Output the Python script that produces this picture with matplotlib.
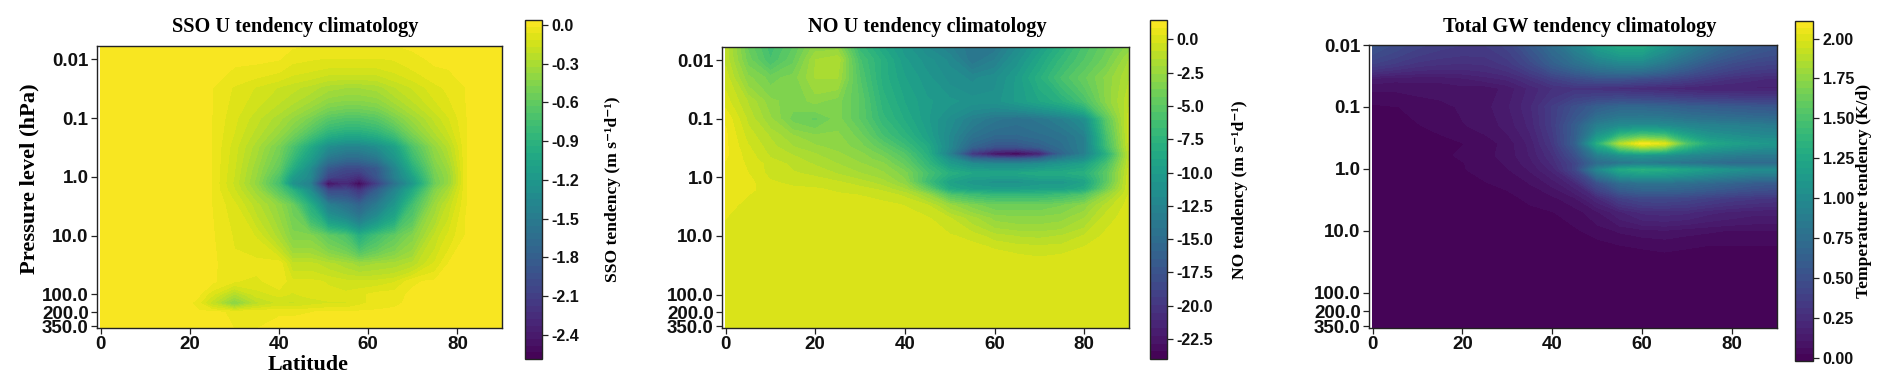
import numpy as np
import matplotlib
matplotlib.use("Agg")
import matplotlib.pyplot as plt

W, H = 1892, 391

# Panel 1: SSO U tendency
sso_lat = [0, 10, 20, 22, 25, 30, 35, 40, 43, 47, 51, 55, 58, 62, 66, 70, 75, 78, 82, 90]
sso_lev = [0.0055, 0.01, 0.03, 0.1, 0.3, 0.7, 1.0, 1.3, 1.7, 3, 10, 30, 60, 100, 140, 200, 380]
sso_val = [
 [0,0,0,0,0,0,0,0,0,-.01,-.01,-.01,-.01,-.01,-.01,0,0,0,0,0],
 [0,0,0,0,0,0,0,-.01,-.05,-.06,-.07,-.07,-.07,-.07,-.06,-.03,0,0,0,0],
 [0,0,0,0,-.01,-.07,-.12,-.17,-.2,-.24,-.3,-.32,-.32,-.3,-.22,-.16,-.08,-.05,-.01,0],
 [0,0,0,0,-.012,-.1,-.2,-.3,-.38,-.5,-.65,-.7,-.7,-.65,-.5,-.35,-.2,-.12,-.012,0],
 [0,0,0,0,-.012,-.14,-.3,-.5,-.7,-1.0,-1.3,-1.4,-1.4,-1.3,-1.1,-.7,-.38,-.25,-.012,0],
 [0,0,0,0,-.012,-.16,-.36,-.6,-.95,-1.3,-1.85,-2.0,-2.0,-1.85,-1.4,-.95,-.48,-.35,-.012,0],
 [0,0,0,0,-.012,-.17,-.38,-.7,-1.15,-1.35,-2.05,-2.15,-2.25,-1.9,-1.45,-1.1,-.52,-.38,-.012,0],
 [0,0,0,0,-.012,-.18,-.4,-.75,-1.25,-1.45,-2.5,-2.3,-2.55,-2.1,-1.6,-1.2,-.55,-.38,-.012,0],
 [0,0,0,0,-.012,-.16,-.35,-.65,-.9,-1.3,-2.0,-2.0,-2.2,-1.8,-1.4,-1.0,-.45,-.3,-.012,0],
 [0,0,0,0,-.012,-.1,-.25,-.4,-.55,-.95,-1.45,-1.6,-1.75,-1.5,-1.2,-.75,-.35,-.2,-.012,0],
 [0,0,0,0,-.005,-.07,-.12,-.3,-.45,-.45,-.6,-.7,-.95,-.75,-.6,-.45,-.2,-.1,-.005,0],
 [0,0,0,0,0,-.05,-.04,-.02,-.2,-.2,-.25,-.3,-.35,-.32,-.3,-.25,-.1,-.01,0,0],
 [0,0,0,0,0,-.06,-.08,-.02,-.1,-.1,-.12,-.15,-.15,-.15,-.12,-.02,0,0,0,0],
 [0,0,0,0,-.1,-.28,-.14,-.1,-.12,-.1,-.1,-.1,-.08,-.04,-.03,0,0,0,0,0],
 [0,0,0,-.05,-.2,-.45,-.24,-.16,-.18,-.14,-.12,-.12,-.08,-.04,-.02,0,0,0,0,0],
 [0,0,0,0,0,-.02,-.015,-.015,-.015,-.012,0,0,0,0,0,0,0,0,0,0],
 [0,0,0,0,0,-.012,-.012,0,0,0,0,0,0,0,0,0,0,0,0,0],
]
sso_ticks = [0.0, -0.3, -0.6, -0.9, -1.2, -1.5, -1.8, -2.1, -2.4]

# Panel 2: NO U tendency
no_lat = [0, 5, 10, 15, 20, 25, 30, 35, 40, 45, 50, 55, 60, 65, 70, 75, 80, 85, 90]
no_lev = [0.0055, 0.01, 0.02, 0.05, 0.1, 0.2, 0.3, 0.4, 0.49, 0.6, 0.85, 1.2, 1.6, 2, 3, 5, 10, 15, 20, 30, 380]
no_val = [
 [-1,-4.5,-6.5,-5,-3,-3,-7,-9,-10.5,-12,-13,-14,-14,-12,-10,-8,-6,-4.5,-3],
 [-1,-4,-6,-4.5,-2,-1.5,-6,-8,-10,-11,-12,-14,-13,-11,-9,-7,-5.5,-4,-2],
 [-.5,-3,-4,-3.5,-2,-2,-5.5,-8,-9.5,-10.5,-11.5,-12,-11.5,-10,-8,-6,-4.5,-3,-1.5],
 [0,-1.5,-3,-3.5,-3,-3.5,-5,-7.5,-9,-10,-10.5,-11,-11,-10,-9,-8,-6,-3,-1],
 [.8,-1,-2.5,-4,-4.5,-3.5,-5,-7,-8.5,-10,-11.5,-13,-14,-14.5,-14,-13,-11.5,-5,-.5],
 [1,-.5,-1.5,-2.5,-3,-3,-4,-6,-7.5,-9.5,-12,-14.5,-15.5,-15.5,-15,-14.5,-13,-6,-.5],
 [1,-.2,-1.2,-2,-2.5,-2.8,-3.5,-4.8,-6.5,-8.5,-12,-16,-17.5,-17.5,-16.5,-15,-13,-6.5,-.7],
 [1,0,-1,-1.5,-2,-2.5,-3,-4,-5.5,-8,-13,-20,-23,-24,-22,-16,-13,-8,-1],
 [.9,.1,-.8,-1.2,-1.8,-2.2,-2.8,-3.5,-5,-7.5,-11,-15,-16,-16.5,-15.5,-13,-11.5,-7,-.9],
 [.8,.2,-.5,-1,-1.5,-2,-2.5,-3,-4.5,-7,-10,-11.5,-12,-12,-11.5,-10.5,-9.5,-6,-.8],
 [.8,.3,-.5,-.8,-1,-1.5,-2,-2.5,-3.5,-6,-8,-9,-9,-9,-8.5,-8.5,-8,-5,-.5],
 [.8,.5,-.2,-.5,-.6,-.8,-1.2,-1.8,-3,-6.5,-9.5,-10.5,-11,-11,-10.5,-10.5,-9.5,-5,-.3],
 [.6,.4,.1,-.1,-.2,-.4,-.6,-1,-2,-4.5,-8.5,-9.5,-9.8,-9.8,-9.5,-9.5,-8.5,-4,-.3],
 [.5,.3,.1,.1,0,-.2,-.3,-.5,-1,-2.5,-5.5,-6.5,-7,-7,-7,-6.5,-5.5,-2.5,-.2],
 [.4,.2,0,0,.1,0,0,-.1,-.3,-.8,-2.4,-3.5,-4.2,-4.2,-4.2,-3.8,-3,-1.2,0],
 [.3,0,0,0,0,0,0,0,-.1,-.2,-.8,-1.8,-2.8,-3,-3,-2.8,-2,-.5,0],
 [.1,0,0,0,0,0,0,0,0,0,-.2,-.5,-1.2,-1.5,-1.6,-1.4,-.8,-.1,0],
 [0,0,0,0,0,0,0,0,0,0,0,-.1,-.4,-.7,-.8,-.7,-.3,0,0],
 [0,0,0,0,0,0,0,0,0,0,0,0,-.1,-.3,-.4,-.3,-.1,0,0],
 [0,0,0,0,0,0,0,0,0,0,0,0,0,0,0,0,0,0,0],
 [0,0,0,0,0,0,0,0,0,0,0,0,0,0,0,0,0,0,0],
]
no_ticks = [0.0, -2.5, -5.0, -7.5, -10.0, -12.5, -15.0, -17.5, -20.0, -22.5]

# Panel 3: total GW tendency
gw_lat = [0, 5, 10, 15, 20, 25, 30, 35, 40, 45, 50, 55, 60, 65, 70, 75, 80, 85, 90]
gw_lev = [0.0095, 0.02, 0.035, 0.05, 0.1, 0.2, 0.39, 0.6, 0.8, 1.03, 1.7, 3, 5, 10, 15, 20, 25, 380]
gw_val = [
 [.55,.48,.42,.38,.36,.36,.42,.58,.75,.95,1.18,1.3,1.3,1.12,.95,.8,.68,.6,.55],
 [.4,.35,.3,.28,.27,.28,.33,.45,.62,.75,.88,.95,.95,.82,.68,.55,.47,.42,.4],
 [.14,.12,.12,.12,.14,.17,.2,.28,.38,.46,.52,.52,.48,.44,.38,.32,.27,.24,.22],
 [.07,.07,.08,.08,.09,.08,.12,.2,.27,.3,.28,.26,.24,.22,.2,.18,.18,.18,.18],
 [.01,.02,.03,.05,.07,.09,.14,.22,.36,.5,.62,.68,.68,.66,.62,.6,.58,.56,.55],
 [0,.01,.02,.03,.06,.08,.12,.2,.36,.6,.9,1.0,1.02,1.0,.95,.92,.9,.88,.86],
 [0,0,.01,.01,.02,.04,.08,.16,.32,.62,1.3,1.85,2.1,2.0,1.5,1.25,1.18,1.12,1.1],
 [0,0,0,.01,.03,.05,.08,.15,.27,.5,.9,1.05,1.1,1.05,.98,.92,.88,.85,.85],
 [0,0,0,.01,.02,.04,.07,.13,.24,.42,.72,.8,.85,.82,.78,.74,.7,.7,.7],
 [0,0,0,0,.02,.03,.06,.11,.2,.42,.95,1.25,1.32,1.28,1.2,1.12,1.05,1.0,1.0],
 [0,0,0,0,.01,.02,.03,.065,.12,.22,.5,.72,.78,.78,.75,.7,.65,.6,.58],
 [0,0,0,0,0,.01,.01,.03,.05,.1,.22,.38,.44,.44,.42,.38,.34,.32,.3],
 [0,0,0,0,0,0,.01,.01,.02,.04,.1,.18,.24,.25,.24,.2,.18,.16,.16],
 [0,0,0,0,0,0,0,0,0,.015,.04,.07,.09,.1,.08,.07,.06,.06,.06],
 [0,0,0,0,0,0,0,0,0,0,.015,.03,.04,.05,.04,.03,.03,.03,.03],
 [0,0,0,0,0,0,0,0,0,0,0,.01,.02,.03,.02,.01,.01,.01,.01],
 [0,0,0,0,0,0,0,0,0,0,0,0,0,.01,.01,0,0,0,0],
 [0,0,0,0,0,0,0,0,0,0,0,0,0,0,0,0,0,0,0],
]
gw_ticks = [0.0, 0.25, 0.5, 0.75, 1.0, 1.25, 1.5, 1.75, 2.0]

press_ticks = [0.01, 0.1, 1.0, 10.0, 100.0, 200.0, 350.0]
lat_ticks = [0, 20, 40, 60, 80]

SERIF = "Liberation Serif"
SANS = "Liberation Sans"
DARK = "#222222"

fig = plt.figure(figsize=(W / 100, H / 100), dpi=100)


def box(x0, x1, y0, y1):
    return [x0 / W, 1 - y1 / H, (x1 - x0) / W, (y1 - y0) / H]


def panel(lat, lev, val, vmin, vmax, nlev, ticks, fmt, title, title_x, cbl, cbl_x, cbl_fs, abox, cbox, ytop,
          ylabel=None, xlabel=None):
    ax = fig.add_axes(box(*abox))
    cax = fig.add_axes(box(*cbox))
    lv = np.linspace(vmin, vmax, nlev)
    cf = ax.contourf(lat, lev, np.array(val), levels=lv, cmap="viridis")
    ax.set_yscale("log")
    ax.set_ylim(372, ytop)
    ax.set_xlim(-0.8, 90)
    ax.set_yticks(press_ticks)
    ax.set_yticklabels([str(t) for t in press_ticks])
    ax.minorticks_off()
    ax.set_xticks(lat_ticks)
    ax.tick_params(length=4, width=0.9, pad=2, color=DARK)
    for s in ax.spines.values():
        s.set_linewidth(1.0); s.set_color(DARK)
    for t in ax.get_xticklabels() + ax.get_yticklabels():
        t.set_fontfamily(SANS); t.set_fontweight("bold"); t.set_fontsize(13.5); t.set_color("#111111")
    tx = (title_x - abox[0]) / (abox[1] - abox[0])
    ax.text(tx, (abox[3] - 27) / (abox[3] - abox[2]), title, transform=ax.transAxes,
            family=SERIF, weight="bold", fontsize=14.6, ha="center", va="center")
    if ylabel:
        ax.set_ylabel(ylabel, family=SERIF, weight="bold", fontsize=16.2, va="center")
        ax.yaxis.set_label_coords((29 - abox[0]) / (abox[1] - abox[0]),
                                  (abox[3] - 179) / (abox[3] - abox[2]))
    if xlabel:
        ax.set_xlabel(xlabel, family=SERIF, weight="bold", fontsize=15.8, va="center")
        ax.xaxis.set_label_coords((308 - abox[0]) / (abox[1] - abox[0]),
                                  (abox[3] - 365) / (abox[3] - abox[2]))
    cb = fig.colorbar(cf, cax=cax, ticks=ticks)
    cb.ax.set_yticklabels([fmt % t for t in ticks])
    cb.ax.tick_params(length=4, width=0.9, pad=3, color=DARK)
    cb.outline.set_linewidth(1.0); cb.outline.set_edgecolor(DARK)
    for t in cb.ax.get_yticklabels():
        t.set_fontfamily(SANS); t.set_fontweight("bold"); t.set_fontsize(11.5); t.set_color("#111111")
    cb.set_label(cbl, family=[SERIF, "DejaVu Sans"], weight="bold", fontsize=cbl_fs, va="center")
    cb.ax.yaxis.set_label_coords((cbl_x - cbox[0]) / (cbox[1] - cbox[0]), 0.5)


panel(sso_lat, sso_lev, sso_val, -2.59, 0.04, 52, sso_ticks, "%.1f", "SSO U tendency climatology", 295,
      "SSO tendency (m s\u207b\u00b9d\u207b\u00b9)", 613, 12.6, (97, 502, 46, 328), (525, 542, 20, 359), 0.0059,
      ylabel="Pressure level (hPa)", xlabel="Latitude")
panel(no_lat, no_lev, no_val, -24.0, 1.45, 45, no_ticks, "%.1f", "NO U tendency climatology", 927,
      "NO tendency (m s\u207b\u00b9d\u207b\u00b9)", 1240, 12.6, (722, 1129, 47, 328), (1150, 1167, 20, 359), 0.006)
panel(gw_lat, gw_lev, gw_val, -0.02, 2.11, 52, gw_ticks, "%.2f", "Total GW tendency climatology", 1580,
      "Temperature tendency (K/d)", 1864, 12.6, (1369, 1777, 45, 328), (1795, 1813, 21, 361), 0.01)

fig.savefig("out.png", dpi=100)
